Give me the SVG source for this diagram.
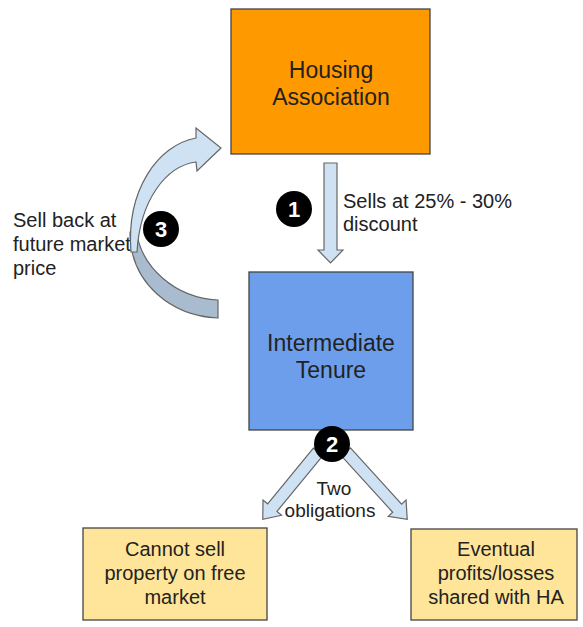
<svg xmlns="http://www.w3.org/2000/svg" width="583" height="627" viewBox="0 0 583 627">
  <style>
    text { font-family: "Liberation Sans", Arial, sans-serif; fill: #222; }
    .box { stroke: #444; stroke-width: 1.3; }
    .lbl { font-size: 20px; }
    .big { font-size: 23px; text-anchor: middle; }
    .mid { font-size: 20px; text-anchor: middle; }
    .arrow { fill: #cfe2f3; stroke: #666; stroke-width: 1.2; stroke-linejoin: miter; }
    .dark { fill: #a9bccf; stroke: #666; stroke-width: 1.2; }
    .badge circle { fill: #000; }
    .badge text { fill: #fff; font-weight: bold; font-size: 22px; text-anchor: middle; }
  </style>
  <rect width="583" height="627" fill="#fff"/>

  <g id="label-sellback">
    <text class="lbl" x="13" y="227">Sell back at</text>
    <text class="lbl" x="13" y="251">future market</text>
    <text class="lbl" x="13" y="275">price</text>
  </g>

  <g id="connectors">
    <!-- 1: HA down to Intermediate -->
    <polygon class="arrow" points="324,163 337,163 337,250 343,250 330.5,263 318,250 324,250"/>
    <!-- 3: curved arrow back up -->
    <path class="dark" d="M218,300 L218,318 C172,316 130,284 130,232 L136,228 C140,268 176,298 218,300 Z"/>
    <path class="arrow" d="M131,252 C126,190 158,145 196,138 L196,128 L221,148 L197,171 L196,162 C166,166 140,200 137,252 Z"/>
    <!-- 2: two obligations -->
    <polygon class="arrow" transform="translate(318,452) rotate(129.4)" points="0,-6 72,-6 72,-12 87,0 72,12 72,6 0,6"/>
    <polygon class="arrow" transform="translate(346,452) rotate(47.7)" points="0,-6 76,-6 76,-12 91,0 76,12 76,6 0,6"/>
    <g id="label-sells">
      <text class="lbl" x="343" y="208">Sells at 25% - 30%</text>
      <text class="lbl" x="343" y="231">discount</text>
    </g>
    <g id="label-two">
      <text class="mid" x="334" y="495" style="font-size:19px">Two</text>
      <text class="mid" x="330" y="517" style="font-size:19px">obligations</text>
    </g>
  </g>

  <g id="housing-association">
    <rect class="box" x="231" y="9" width="199" height="145" fill="#ff9900"/>
    <text class="big" x="331" y="78">Housing</text>
    <text class="big" x="331" y="105">Association</text>
  </g>

  <g id="intermediate-tenure">
    <rect class="box" x="249" y="272" width="164" height="158" fill="#6d9eeb"/>
    <text class="big" x="331" y="351">Intermediate</text>
    <text class="big" x="331" y="378">Tenure</text>
  </g>

  <g id="cannot-sell">
    <rect class="box" x="83" y="528" width="184" height="92" fill="#ffe599"/>
    <text class="mid" x="175" y="556">Cannot sell</text>
    <text class="mid" x="175" y="580">property on free</text>
    <text class="mid" x="175" y="604">market</text>
  </g>

  <g id="eventual-profits">
    <rect class="box" x="411" y="529" width="166" height="91" fill="#ffe599"/>
    <text class="mid" x="496" y="556">Eventual</text>
    <text class="mid" x="496" y="580">profits/losses</text>
    <text class="mid" x="496" y="604">shared with HA</text>
  </g>

  <g id="badge-1" class="badge">
    <circle cx="294" cy="209" r="18"/>
    <text x="294" y="217">1</text>
  </g>
  <g id="badge-2" class="badge">
    <circle cx="332" cy="444" r="18"/>
    <text x="332" y="452">2</text>
  </g>
  <g id="badge-3" class="badge">
    <circle cx="161" cy="229" r="18"/>
    <text x="161" y="237">3</text>
  </g>
</svg>
